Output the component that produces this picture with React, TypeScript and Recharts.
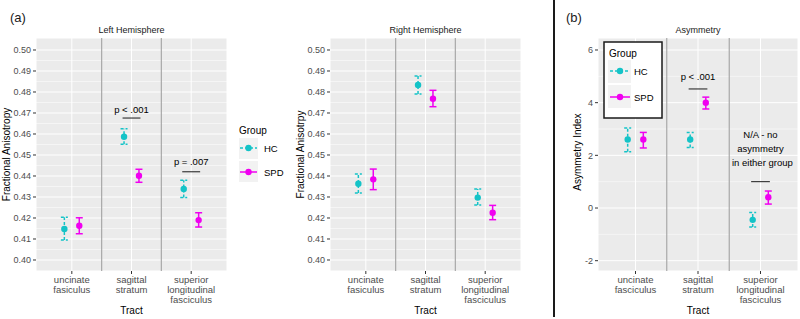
import React from 'react';
import { ScatterChart, Scatter, XAxis, YAxis, CartesianGrid, ErrorBar, ReferenceLine, ReferenceDot } from 'recharts';

const FONT = '"Liberation Sans", Arial, sans-serif';
const HC_COLOR = '#14C3C7';
const SPD_COLOR = '#F000F0';
const DODGE = 0.125;

// tract labels (the FA panels spell "fasiculus", the asymmetry panel doesn't)
const tractsFA = ['uncinate\nfasiculus', 'sagittal\nstratum', 'superior\nlongitudinal\nfasciculus'];
const tractsAsym = ['uncinate\nfasciculus', 'sagittal\nstratum', 'superior\nlongitudinal\nfasciculus'];

// Left hemisphere FA
const leftHcMean = [0.4148, 0.4587, 0.4338];
const leftHcLo = [0.4095, 0.4551, 0.4297];
const leftHcHi = [0.4203, 0.4625, 0.438];
const leftSpdMean = [0.4163, 0.4401, 0.419];
const leftSpdLo = [0.4125, 0.437, 0.4157];
const leftSpdHi = [0.4201, 0.4432, 0.4225];

// Right hemisphere FA
const rightHcMean = [0.4363, 0.4833, 0.4297];
const rightHcLo = [0.4319, 0.479, 0.4262];
const rightHcHi = [0.441, 0.4876, 0.4338];
const rightSpdMean = [0.4384, 0.4768, 0.4225];
const rightSpdLo = [0.4335, 0.473, 0.4192];
const rightSpdHi = [0.4433, 0.4808, 0.426];

// Asymmetry index
const asymHcMean = [2.6, 2.6, -0.45];
const asymHcLo = [2.14, 2.3, -0.72];
const asymHcHi = [3.04, 2.87, -0.17];
const asymSpdMean = [2.6, 4.0, 0.41];
const asymSpdLo = [2.28, 3.76, 0.15];
const asymSpdHi = [2.87, 4.21, 0.645];

const faTicks = [0.4, 0.41, 0.42, 0.43, 0.44, 0.45, 0.46, 0.47, 0.48, 0.49, 0.5];
const faMinor = [0.405, 0.415, 0.425, 0.435, 0.445, 0.455, 0.465, 0.475, 0.485, 0.495];
const asymTicks = [-2, 0, 2, 4, 6];
const asymMinor = [-1, 1, 3, 5];

// significance bars and texts (data units)
const leftBars = [
  { x1: 1.85, x2: 2.15, y: 0.4676 },
  { x1: 2.85, x2: 3.15, y: 0.442 },
];
const leftTexts = [
  { x: 2, y: 0.4714, text: 'p < .001' },
  { x: 3, y: 0.4468, text: 'p = .007' },
];
const asymBars = [
  { x1: 1.85, x2: 2.15, y: 4.52 },
  { x1: 2.85, x2: 3.15, y: 1.0 },
];
const asymTexts = [
  { x: 2, y: 4.97, text: 'p < .001' },
  { x: 3, y: 2.8, text: 'N/A - no' },
  { x: 3, y: 2.25, text: 'asymmetry' },
  { x: 3.03, y: 1.72, text: 'in either group' },
];

function buildRows(mean: number[], lo: number[], hi: number[], shift: number) {
  return mean.map((m, i) => ({ x: i + 1 + shift, y: m, err: [m - lo[i], hi[i] - m] }));
}

function CatTick(props: any) {
  const { x, y, payload, labels } = props;
  const lines: string[] = labels[payload.value - 1].split('\n');
  return (
    <text x={x} y={y} textAnchor="middle" fontSize={9.5} fill="#4D4D4D" fontFamily={FONT}>
      {lines.map((l, i) => (
        <tspan key={i} x={x} dy={i === 0 ? '0.71em' : 10}>
          {l}
        </tspan>
      ))}
    </text>
  );
}

function Panel(props: any) {
  const { left, width, hc, spd, domain, ticks, minor, labels, fmt, bars, texts } = props;
  return (
    <div style={{ position: 'absolute', left, top: 0 }}>
      <ScatterChart width={width} height={319} margin={{ top: 38, right: 2, bottom: 0, left: 0 }}>
        <CartesianGrid fill="#EBEBEB" stroke="#FFFFFF" strokeWidth={1} />
        {minor.map((v: number) => (
          <ReferenceLine key={'m' + v} y={v} stroke="#FFFFFF" strokeWidth={0.5} />
        ))}
        <ReferenceLine x={1.5} stroke="#A8A8A8" strokeWidth={1.2} />
        <ReferenceLine x={2.5} stroke="#A8A8A8" strokeWidth={1.2} />
        <XAxis
          type="number"
          dataKey="x"
          domain={[0.4, 3.6]}
          ticks={[1, 2, 3]}
          interval={0}
          allowDataOverflow
          axisLine={false}
          tickSize={3}
          tickLine={{ stroke: '#333333' }}
          height={48}
          tick={<CatTick labels={labels} />}
        />
        <YAxis
          type="number"
          dataKey="y"
          domain={domain}
          ticks={ticks}
          interval={0}
          allowDataOverflow
          axisLine={false}
          tickSize={3}
          tickLine={{ stroke: '#333333' }}
          width={36}
          tickFormatter={fmt}
          tick={{ fontSize: 9, fill: '#4D4D4D', fontFamily: FONT }}
        />
        {bars.map((b: any, i: number) => (
          <ReferenceLine
            key={'b' + i}
            segment={[{ x: b.x1, y: b.y }, { x: b.x2, y: b.y }]}
            stroke="#1A1A1A"
            strokeWidth={1}
          />
        ))}
        {texts.map((t: any, i: number) => (
          <ReferenceDot
            key={'t' + i}
            x={t.x}
            y={t.y}
            r={1}
            fill="none"
            stroke="none"
            label={{ value: t.text, position: 'center', fontSize: 9.5, fill: '#000', fontFamily: FONT }}
          />
        ))}
        <Scatter
          data={hc}
          fill={HC_COLOR}
          isAnimationActive={false}
          shape={(p: any) => <circle cx={p.cx} cy={p.cy} r={3.2} fill={HC_COLOR} />}
        >
          <ErrorBar
            dataKey="err"
            direction="y"
            width={3.5}
            stroke={HC_COLOR}
            strokeWidth={1.5}
            strokeDasharray="3 2"
            isAnimationActive={false}
          />
        </Scatter>
        <Scatter
          data={spd}
          fill={SPD_COLOR}
          isAnimationActive={false}
          shape={(p: any) => <circle cx={p.cx} cy={p.cy} r={3.2} fill={SPD_COLOR} />}
        >
          <ErrorBar dataKey="err" direction="y" width={3.5} stroke={SPD_COLOR} strokeWidth={1.5} isAnimationActive={false} />
        </Scatter>
      </ScatterChart>
    </div>
  );
}

function LegendKey({ x, y, w, dashed, color }: any) {
  return (
    <g>
      <line x1={x} y1={y} x2={x + w} y2={y} stroke={color} strokeWidth={1.5} strokeDasharray={dashed ? '3 2' : undefined} />
      <circle cx={x + w / 2} cy={y} r={3.2} fill={color} />
    </g>
  );
}

export default function App() {
  const faFmt = (v: number) => v.toFixed(2);
  const asymFmt = (v: number) => String(v);
  return (
    <div style={{ position: 'absolute', left: 0, top: 0, width: 800, height: 319, background: '#fff', fontFamily: FONT }}>
      <Panel
        left={0}
        width={229}
        hc={buildRows(leftHcMean, leftHcLo, leftHcHi, -DODGE)}
        spd={buildRows(leftSpdMean, leftSpdLo, leftSpdHi, DODGE)}
        domain={[0.39476, 0.50571]}
        ticks={faTicks}
        minor={faMinor}
        labels={tractsFA}
        fmt={faFmt}
        bars={leftBars}
        texts={leftTexts}
      />
      <Panel
        left={294}
        width={229}
        hc={buildRows(rightHcMean, rightHcLo, rightHcHi, -DODGE)}
        spd={buildRows(rightSpdMean, rightSpdLo, rightSpdHi, DODGE)}
        domain={[0.39476, 0.50571]}
        ticks={faTicks}
        minor={faMinor}
        labels={tractsFA}
        fmt={faFmt}
        bars={[]}
        texts={[]}
      />
      <Panel
        left={562}
        width={238}
        hc={buildRows(asymHcMean, asymHcLo, asymHcHi, -DODGE)}
        spd={buildRows(asymSpdMean, asymSpdLo, asymSpdHi, DODGE)}
        domain={[-2.391, 6.455]}
        ticks={asymTicks}
        minor={asymMinor}
        labels={tractsAsym}
        fmt={asymFmt}
        bars={asymBars}
        texts={asymTexts}
      />
      <svg width={800} height={319} style={{ position: 'absolute', left: 0, top: 0, pointerEvents: 'none' }} fontFamily={FONT}>
        {/* panel letters and divider */}
        <text x={10} y={22} fontSize={13} fill="#1A1A1A">(a)</text>
        <text x={566} y={22} fontSize={13} fill="#1A1A1A">(b)</text>
        <line x1={554} y1={0} x2={554} y2={317} stroke="#1A1A1A" strokeWidth={2} />

        {/* strip titles */}
        <text x={131.5} y={33} fontSize={9} textAnchor="middle" fill="#1A1A1A">Left Hemisphere</text>
        <text x={425.5} y={33} fontSize={9} textAnchor="middle" fill="#1A1A1A">Right Hemisphere</text>
        <text x={698} y={33} fontSize={9} textAnchor="middle" fill="#1A1A1A">Asymmetry</text>

        {/* axis titles */}
        <text x={131.5} y={314} fontSize={10} textAnchor="middle" fill="#000">Tract</text>
        <text x={425.5} y={314} fontSize={10} textAnchor="middle" fill="#000">Tract</text>
        <text x={698} y={314} fontSize={10} textAnchor="middle" fill="#000">Tract</text>
        <text transform="translate(9.5,154.5) rotate(-90)" fontSize={10} textAnchor="middle" fill="#000">Fractional Anisotropy</text>
        <text transform="translate(303.5,154.5) rotate(-90)" fontSize={10} textAnchor="middle" fill="#000">Fractional Anisotrpy</text>
        <text transform="translate(581,152) rotate(-90)" fontSize={10} textAnchor="middle" fill="#000">Asymmetry Index</text>

        {/* middle legend */}
        <text x={239} y={134} fontSize={10} fill="#000">Group</text>
        <rect x={239} y={138} width={19} height={21} fill="#F2F2F2" />
        <rect x={239} y={161} width={19} height={21} fill="#F2F2F2" />
        <LegendKey x={240} y={148} w={17} dashed color={HC_COLOR} />
        <LegendKey x={240} y={172} w={17} color={SPD_COLOR} />
        <text x={264} y={151.5} fontSize={9.5} fill="#000">HC</text>
        <text x={264} y={175.5} fontSize={9.5} fill="#000">SPD</text>

        {/* legend inside asymmetry panel */}
        <rect x={604} y={42} width={58} height={76} fill="#FFFFFF" stroke="#1A1A1A" strokeWidth={1.5} />
        <text x={609} y={57} fontSize={10} fill="#000">Group</text>
        <rect x={608} y={60} width={23} height={23} fill="#F2F2F2" />
        <rect x={608} y={85} width={23} height={23} fill="#F2F2F2" />
        <LegendKey x={610} y={71} w={20} dashed color={HC_COLOR} />
        <LegendKey x={610} y={97} w={20} color={SPD_COLOR} />
        <text x={634} y={74.5} fontSize={9.5} fill="#000">HC</text>
        <text x={634} y={100.5} fontSize={9.5} fill="#000">SPD</text>
      </svg>
    </div>
  );
}
